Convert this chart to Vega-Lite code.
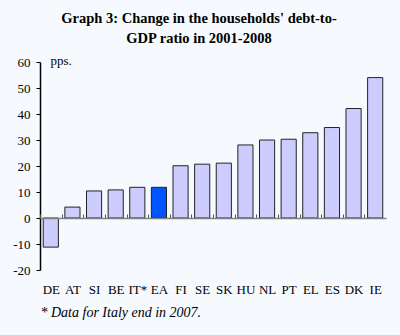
{
  "$schema": "https://vega.github.io/schema/vega-lite/v6.json",
  "width": 346,
  "height": 208,
  "autosize": {"type": "none"},
  "padding": {"left": 40, "top": 62, "right": 14, "bottom": 65},
  "background": "#f6faff",
  "title": {
    "text": ["Graph 3: Change in the households' debt-to-", "GDP ratio in 2001-2008"],
    "font": "Liberation Serif",
    "fontSize": 14.5,
    "fontWeight": "bold",
    "color": "#000000",
    "anchor": "middle",
    "frame": "group",
    "lineHeight": 20,
    "offset": 8,
    "dx": -14
  },
  "config": {
    "view": {"stroke": null},
    "axis": {"labelFont": "Liberation Serif", "titleFont": "Liberation Serif", "labelColor": "#000000", "titleColor": "#000000", "grid": false}
  },
  "data": {
    "values": [
      {"country": "DE", "value": -11.2, "group": "country"},
      {"country": "AT", "value": 4.2, "group": "country"},
      {"country": "SI", "value": 10.4, "group": "country"},
      {"country": "BE", "value": 10.8, "group": "country"},
      {"country": "IT*", "value": 11.8, "group": "country"},
      {"country": "EA", "value": 11.8, "group": "ea"},
      {"country": "FI", "value": 20.1, "group": "country"},
      {"country": "SE", "value": 20.7, "group": "country"},
      {"country": "SK", "value": 21.1, "group": "country"},
      {"country": "HU", "value": 28.1, "group": "country"},
      {"country": "NL", "value": 30.0, "group": "country"},
      {"country": "PT", "value": 30.3, "group": "country"},
      {"country": "EL", "value": 32.8, "group": "country"},
      {"country": "ES", "value": 34.8, "group": "country"},
      {"country": "DK", "value": 42.1, "group": "country"},
      {"country": "IE", "value": 54.0, "group": "country"}
    ]
  },
  "mark": {"type": "bar", "stroke": "#222222", "strokeWidth": 1},
  "encoding": {
    "x": {
      "field": "country",
      "type": "nominal",
      "sort": null,
      "scale": {"paddingInner": 0.3, "paddingOuter": 0.15},
      "axis": {
        "title": "* Data for Italy end in 2007.",
        "titleFontStyle": "italic",
        "titleFontWeight": "normal",
        "titleFontSize": 14,
        "titleAnchor": "start",
        "titleAlign": "left",
        "titleX": 0,
        "titleY": 87,
        "labelAngle": 0,
        "labelFontSize": 13,
        "labelPadding": 69,
        "labelOffset": 3.2,
        "offset": -52,
        "zindex": 1,
        "domain": true,
        "domainColor": "#808080",
        "domainWidth": 1.5,
        "ticks": true,
        "bandPosition": 0,
        "tickOffset": -3.2,
        "tickSize": -4,
        "tickColor": "#555555",
        "tickWidth": 1
      }
    },
    "y": {
      "field": "value",
      "type": "quantitative",
      "scale": {"domain": [-20, 60], "nice": false, "zero": false},
      "axis": {
        "values": [-20, -10, 0, 10, 20, 30, 40, 50, 60],
        "labelExpr": "datum.value + ''",
        "labelOverlap": false,
        "title": "pps.",
        "titleAngle": 0,
        "titleFontSize": 13,
        "titleFontWeight": "normal",
        "titleAlign": "left",
        "titleBaseline": "middle",
        "titleX": 10,
        "titleY": -2,
        "labelFontSize": 13,
        "labelPadding": 6,
        "domainColor": "#000000",
        "domainWidth": 1.5,
        "tickColor": "#000000",
        "tickSize": 4
      }
    },
    "fill": {
      "field": "group",
      "type": "nominal",
      "scale": {"domain": ["country", "ea"], "range": ["#ccccff", "#0055ff"]},
      "legend": null
    }
  }
}
